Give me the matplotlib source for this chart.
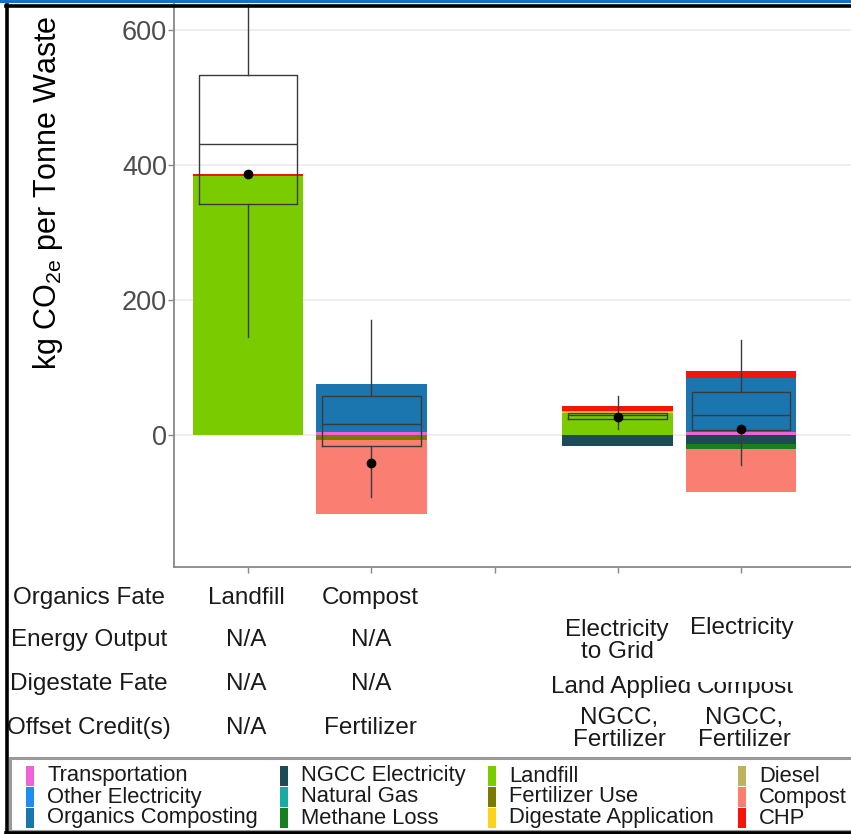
import matplotlib
matplotlib.use("Agg")
import matplotlib.pyplot as plt
from matplotlib.patches import Rectangle
from matplotlib.lines import Line2D
import numpy as np

plt.rcParams['font.family'] = ['Liberation Sans', 'DejaVu Sans']
plt.rcParams['mathtext.fontset'] = 'custom'
plt.rcParams['mathtext.rm'] = 'Liberation Sans'
plt.rcParams['mathtext.it'] = 'Liberation Sans:italic'

W, H = 851, 834

# ---------------- data ----------------
categories = ["Landfill", "Compost", "", "AD Land Applied", "AD Compost"]

components = ["Transportation", "Other Electricity", "Organics Composting",
              "NGCC Electricity", "Natural Gas", "Methane Loss",
              "Landfill", "Fertilizer Use", "Digestate Application",
              "Diesel", "Compost", "CHP"]
colors = ["#F062D9", "#1E8CF0", "#1B75AE",
          "#1D4B55", "#1AABA0", "#168020",
          "#7ACC00", "#7A7A00", "#FFD21A",
          "#BDB35A", "#FA7F72", "#F5140A"]

transportation        = [0,    4,    0, 0,     5]
other_electricity     = [0,    0,    0, 0,     0]
organics_composting   = [0,   71,    0, 0,    79]
ngcc_electricity      = [0,    0,    0, -16, -13]
natural_gas           = [0,    0,    0, 0,     0]
methane_loss          = [0,    0,    0, 0,    -7]
landfill              = [383,  0,    0, 32,    0]
fertilizer_use        = [0,   -8,    0, 0,     0]
digestate_application = [0,    0,    0, 2.5,   0]
diesel                = [0,    0,    0, 1.5,   0]
compost               = [0, -109,    0, 0,   -65]
chp                   = [3,    0,    0, 7,    10]

series = [transportation, other_electricity, organics_composting,
          ngcc_electricity, natural_gas, methane_loss, landfill,
          fertilizer_use, digestate_application, diesel, compost, chp]

# boxplot summaries (for the non-empty categories)
box_categories = ["Landfill", "Compost", "AD Land Applied", "AD Compost"]
whisker_low  = [145, -92,  9, -44]
q1           = [342, -17, 23,   7]
median       = [430,  16, 29,  30]
q3           = [533,  57, 33,  63]
whisker_high = [720, 170, 57, 140]
mean         = [386, -41, 26,   9]

y_ticks = [0, 200, 400, 600]

# table below the plot
row_labels = ["Organics Fate", "Energy Output", "Digestate Fate", "Offset Credit(s)"]

# ---------------- figure ----------------
fig = plt.figure(figsize=(W / 100, H / 100), dpi=100)

def fx(x):
    return x / W

def fy(y):
    return 1 - y / H

ax_left, ax_right, ax_top, ax_bottom = 174, 851, 4, 567
ax = fig.add_axes([fx(ax_left), fy(ax_bottom), (ax_right - ax_left) / W, (ax_bottom - ax_top) / H])

x = np.arange(1, len(categories) + 1)
pos_bottom = np.zeros(len(categories))
neg_bottom = np.zeros(len(categories))
for name, vals, col in zip(components, series, colors):
    v = np.array(vals, dtype=float)
    b = np.where(v >= 0, pos_bottom, neg_bottom)
    ax.bar(x, v, bottom=b, width=0.9, color=col, linewidth=0, zorder=2)
    pos_bottom = pos_bottom + np.where(v > 0, v, 0)
    neg_bottom = neg_bottom + np.where(v < 0, v, 0)

stats = []
for i, c in enumerate(box_categories):
    stats.append(dict(label=c, whislo=whisker_low[i], q1=q1[i], med=median[i],
                      q3=q3[i], whishi=whisker_high[i], mean=mean[i]))
box_pos = [categories.index(c) + 1 for c in box_categories]
lc = "#3A3A3A"
ax.bxp(stats, positions=box_pos, widths=0.8, showmeans=True, showcaps=False,
       showfliers=False, patch_artist=False,
       boxprops=dict(color=lc, linewidth=1.0),
       whiskerprops=dict(color=lc, linewidth=1.0),
       medianprops=dict(color=lc, linewidth=1.0),
       meanprops=dict(marker='o', markerfacecolor='black', markeredgecolor='black', markersize=6),
       zorder=3)

px_per_unit = 0.6758
y0px = 435
ax.set_ylim(-(ax_bottom - y0px) / px_per_unit, (y0px - ax_top) / px_per_unit)
step = 123.25
ax.set_xlim(1 - (248 - ax_left) / step, 1 + (ax_right - 248) / step)

ax.set_yticks(y_ticks)
ax.set_yticklabels([str(t) for t in y_ticks], fontsize=19.5, color="#4D4D4D")
ax.set_xticks(x)
ax.set_xticklabels([])
ax.tick_params(axis='both', length=4, width=1, color="#888888", pad=1)
ax.grid(axis='y', color="#EBEBEB", linewidth=1.2, zorder=0)
ax.set_axisbelow(True)
for s in ["top", "right"]:
    ax.spines[s].set_visible(False)
for s in ["left", "bottom"]:
    ax.spines[s].set_color("#888888")
    ax.spines[s].set_linewidth(1.3)

fig.text(fx(48), fy(193), r"kg CO$_{\mathregular{2e}}$ per Tonne Waste", rotation=90,
         ha='center', va='center', fontsize=22, color="black")

# ---------------- table ----------------
tcol = "#1A1A1A"
tfs = 17.5
row_y = [598, 640, 684, 728]
for lab, yy in zip(row_labels, row_y):
    fig.text(fx(89), fy(yy), lab, ha='center', va='center', fontsize=tfs, color=tcol)

cells = [
    ("Landfill", 246, 598), ("Compost", 370, 598),
    ("N/A", 246, 640), ("N/A", 371, 640),
    ("Electricity\nto Grid", 617, 641), ("Electricity", 742, 628),
    ("N/A", 246, 684), ("N/A", 371, 684),
    ("Land Applied", 621, 687), ("Compost", 745, 687),
    ("N/A", 246, 728), ("Fertilizer", 370, 728),
    ("NGCC,\nFertilizer", 619, 729), ("NGCC,\nFertilizer", 744, 729),
]
for txt, xx, yy in cells:
    fig.text(fx(xx), fy(yy), txt, ha='center', va='center', fontsize=tfs,
             color=tcol, linespacing=1.05)

# white patch partly hiding the "Compost" digestate label (as in the source)
fig.add_artist(Rectangle((fx(685), fy(682)), (800 - 685) / W, 20 / H,
                         transform=fig.transFigure, facecolor='white',
                         edgecolor='none', zorder=5))

# ---------------- legend ----------------
fig.add_artist(Rectangle((fx(10), fy(831)), (860 - 10) / W, (831 - 758) / H,
                         transform=fig.transFigure, facecolor='white',
                         edgecolor="#9A9A9A", linewidth=2.2, zorder=4))
key_x = [26, 280, 488, 738]
text_x = [47, 301, 509, 759]
leg_rows = [776, 797, 818]
for i, (name, col) in enumerate(zip(components, colors)):
    c, r = divmod(i, 3)
    yy = leg_rows[r]
    fig.add_artist(Rectangle((fx(key_x[c]), fy(yy + 10)), 8 / W, 20.5 / H,
                             transform=fig.transFigure, facecolor=col,
                             edgecolor='none', zorder=6))
    fig.text(fx(text_x[c]), fy(yy), name, ha='left', va='center',
             fontsize=15.8, color="#1A1A1A", zorder=6)

# ---------------- screenshot frame ----------------
fig.add_artist(Line2D([0, 1], [fy(1), fy(1)], transform=fig.transFigure,
                      color="#1A6FC0", linewidth=2.2, zorder=10))
fig.add_artist(Line2D([fx(6), 1], [fy(5.5), fy(5.5)], transform=fig.transFigure,
                      color="black", linewidth=2.6, zorder=10))
fig.add_artist(Line2D([fx(6.5), fx(6.5)], [fy(5), fy(833)], transform=fig.transFigure,
                      color="black", linewidth=2.6, zorder=10))
fig.add_artist(Line2D([fx(6), 1], [fy(832.5), fy(832.5)], transform=fig.transFigure,
                      color="black", linewidth=2.6, zorder=10))

fig.savefig("out.png", dpi=100)
